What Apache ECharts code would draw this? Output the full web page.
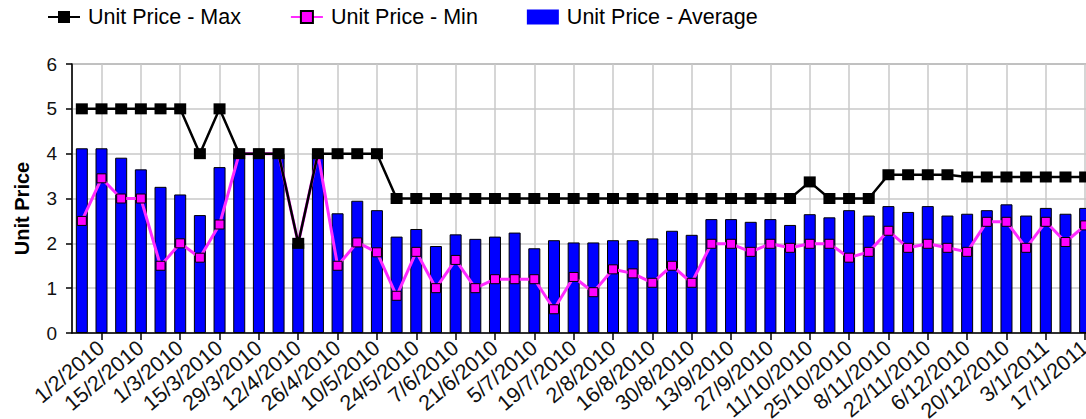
<!DOCTYPE html>
<html>
<head>
<meta charset="utf-8">
<script src="https://cdn.jsdelivr.net/npm/echarts@6/dist/echarts.min.js"></script>
<style>
html,body{margin:0;padding:0;background:#fff;}
#chart{width:1086px;height:419px;}
</style>
</head>
<body>
<div id="chart"></div>
<script>
const categories = ['25/1/2010','1/2/2010','8/2/2010','15/2/2010','22/2/2010','1/3/2010','8/3/2010','15/3/2010','22/3/2010','29/3/2010','5/4/2010','12/4/2010','19/4/2010','26/4/2010','3/5/2010','10/5/2010','17/5/2010','24/5/2010','31/5/2010','7/6/2010','14/6/2010','21/6/2010','28/6/2010','5/7/2010','12/7/2010','19/7/2010','26/7/2010','2/8/2010','9/8/2010','16/8/2010','23/8/2010','30/8/2010','6/9/2010','13/9/2010','20/9/2010','27/9/2010','4/10/2010','11/10/2010','18/10/2010','25/10/2010','1/11/2010','8/11/2010','15/11/2010','22/11/2010','29/11/2010','6/12/2010','13/12/2010','20/12/2010','27/12/2010','3/1/2011','10/1/2011','17/1/2011'];

const priceMax = [5,5,5,5,5,5,4,5,4,4,4,2,4,4,4,4,
  3,3,3,3,3,3,3,3,3,3,3,3,3,3,3,3,3,3,3,3,3,
  3.37,3,3,3,3.53,3.53,3.53,3.53,3.48,3.48,3.48,3.48,3.48,3.48,3.48];

const priceMin = [2.50,3.45,3.00,3.00,1.50,2.00,1.68,2.42,4,4,4,2,4,
  1.50,2.02,1.80,0.83,1.81,1.00,1.63,1.00,1.20,1.20,1.20,0.53,1.25,0.91,1.42,1.33,1.12,1.50,1.12,
  1.99,1.99,1.81,1.99,1.90,1.99,1.99,1.68,1.81,2.28,1.90,1.99,1.90,1.81,2.48,2.48,1.90,2.48,2.03,2.40];

const priceAvg = [4.12,4.12,3.91,3.65,3.26,3.09,2.63,3.70,4.0,4.0,4.0,2.0,4.0,
  2.67,2.95,2.74,2.15,2.32,1.94,2.20,2.10,2.15,2.24,1.89,2.07,2.02,2.02,2.07,2.07,2.11,2.28,2.19,
  2.54,2.54,2.48,2.54,2.41,2.65,2.58,2.74,2.62,2.83,2.70,2.83,2.62,2.66,2.74,2.87,2.62,2.79,2.66,2.79];

const seriesNames = ['Unit Price - Max','Unit Price - Min','Unit Price - Average'];
const yAxisTitle = 'Unit Price';

const FONT = '"Liberation Sans", Arial, sans-serif';
const everyOther = function (i) { return i % 2 === 1; };

const chart = echarts.init(document.getElementById('chart'), null, {renderer: 'svg'});
chart.setOption({
  animation: false,
  backgroundColor: '#ffffff',
  textStyle: {fontFamily: FONT},
  legend: {
    left: 47, top: 6, padding: 0,
    itemWidth: 32, itemHeight: 15, itemGap: 49,
    textStyle: {fontSize: 21.5, color: '#000', fontFamily: FONT, padding: [0, 0, 0, 3]},
    data: [
      {name: seriesNames[0]},
      {name: seriesNames[1]},
      {name: seriesNames[2], icon: 'rect', itemStyle: {borderWidth: 0}}
    ]
  },
  grid: {
    left: 72, top: 64, bottom: 86, right: -9,
    outerBoundsMode: 'none',
    containLabel: false,
    show: true, borderColor: '#555', borderWidth: 1
  },
  xAxis: {
    type: 'category',
    data: categories,
    boundaryGap: true,
    axisLine: {lineStyle: {color: '#000', width: 1.5}},
    axisTick: {show: true, alignWithLabel: true, interval: everyOther, length: 7, lineStyle: {color: '#000', width: 1.5}},
    axisLabel: {interval: everyOther, rotate: 40, fontSize: 21.5, color: '#111', margin: 12, fontFamily: FONT},
    splitLine: {show: true, alignWithLabel: true, interval: everyOther, lineStyle: {color: '#c8c8c8', width: 1.5}}
  },
  yAxis: {
    type: 'value',
    min: 0, max: 6, interval: 1,
    name: yAxisTitle,
    nameLocation: 'middle',
    nameGap: 40,
    nameTextStyle: {fontSize: 20, fontWeight: 'bold', color: '#000', fontFamily: FONT, padding: [0, 20, 0, 0]},
    axisLine: {show: true, lineStyle: {color: '#000', width: 1.5}},
    axisTick: {show: true, length: 6, lineStyle: {color: '#000', width: 1.5}},
    axisLabel: {fontSize: 19, color: '#111', margin: 15, fontFamily: FONT},
    splitLine: {show: true, lineStyle: {color: '#c8c8c8', width: 1.5}}
  },
  series: [
    {
      name: seriesNames[2], type: 'bar', data: priceAvg, z: 1,
      barWidth: 12,
      itemStyle: {color: '#0000ff', borderColor: '#000', borderWidth: 1}
    },
    {
      name: seriesNames[1], type: 'line', data: priceMin, z: 3,
      symbol: 'rect', symbolSize: 9,
      lineStyle: {color: '#ff2bff', width: 3},
      itemStyle: {color: '#ff00ff', borderColor: '#000', borderWidth: 1}
    },
    {
      name: seriesNames[0], type: 'line', data: priceMax, z: 4,
      symbol: 'rect', symbolSize: [12, 11],
      lineStyle: {color: '#000', width: 2.5},
      itemStyle: {color: '#000'}
    }
  ]
});
</script>
</body>
</html>
